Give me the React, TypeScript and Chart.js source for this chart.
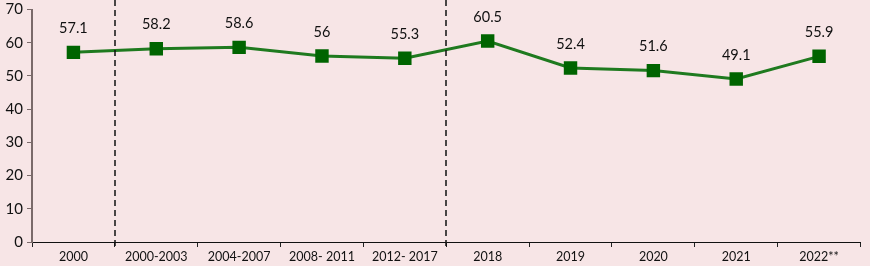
import React, { useEffect, useRef } from "react";
import { Chart, registerables } from "chart.js";

Chart.register(...registerables);

const categories = ["2000", "2000-2003", "2004-2007", "2008- 2011", "2012- 2017", "2018", "2019", "2020", "2021", "2022**"];
const values = [57.1, 58.2, 58.6, 56, 55.3, 60.5, 52.4, 51.6, 49.1, 55.9];
const dividerAfter = [0, 4];
const yTicks = [0, 10, 20, 30, 40, 50, 60, 70];

const BG = "#f7e5e6";

export default function App() {
  const ref = useRef<HTMLCanvasElement>(null);
  useEffect(() => {
    const canvas = ref.current!;
    const bgPlugin = {
      id: "bg",
      beforeDraw(chart: any) {
        const ctx = chart.ctx;
        ctx.save();
        ctx.fillStyle = BG;
        ctx.fillRect(0, 0, chart.width, chart.height);
        ctx.restore();
      },
    };
    const overlay = {
      id: "overlay",
      afterDatasetsDraw(chart: any) {
        const ctx = chart.ctx;
        const xs = chart.scales.x;
        const ys = chart.scales.y;
        ctx.save();
        ctx.strokeStyle = "#111";
        ctx.lineWidth = 1.5;
        ctx.setLineDash([6, 4]);
        dividerAfter.forEach((i) => {
          const x = Math.round((xs.getPixelForValue(i) + xs.getPixelForValue(i + 1)) / 2);
          ctx.beginPath();
          ctx.moveTo(x, 0);
          ctx.lineTo(x, ys.bottom + 6);
          ctx.stroke();
        });
        ctx.setLineDash([]);
        ctx.fillStyle = "#111";
        ctx.font = "14.5px Lato";
        ctx.textAlign = "center";
        ctx.textBaseline = "middle";
        const meta = chart.getDatasetMeta(0);
        meta.data.forEach((pt: any, i: number) => {
          ctx.fillText(String(values[i]), pt.x, pt.y - 24);
        });
        ctx.restore();
      },
    };
    const chart = new Chart(canvas, {
      type: "line",
      data: {
        labels: categories,
        datasets: [
          {
            data: values,
            borderColor: "#1f7a1f",
            borderWidth: 3,
            pointStyle: "rect",
            pointRadius: 9.5,
            pointBackgroundColor: "#006400",
            pointBorderColor: "#006400",
            pointBorderWidth: 0,
            tension: 0,
          },
        ],
      },
      options: {
        responsive: false,
        animation: false,
        layout: { padding: { top: 7, right: 1, left: 0, bottom: 0 } },
        plugins: { legend: { display: false }, tooltip: { enabled: false } },
        scales: {
          x: {
            offset: true,
            grid: { offset: true, drawOnChartArea: false, drawTicks: true, tickLength: 5, color: "#222", lineWidth: 1 },
            border: { color: "#111", width: 1 },
            ticks: { color: "#111", font: { family: "Lato", size: 12.5 }, padding: 2, maxRotation: 0, autoSkip: false },
            afterFit(scale: any) {
              scale.height = 24;
              scale.paddingLeft = 0;
              scale.paddingRight = 0;
            },
          },
          y: {
            min: 0,
            max: 70,
            afterBuildTicks(scale: any) {
              scale.ticks = yTicks.map((v) => ({ value: v }));
            },
            grid: { drawOnChartArea: false, drawTicks: true, tickLength: 5, color: "#7a6a6a" },
            border: { color: "#7a6a6a", width: 2 },
            ticks: { color: "#111", font: { family: "Lato", size: 15 }, padding: 4 },
            afterFit(scale: any) {
              scale.width = 32;
              scale.paddingTop = 0;
              scale.paddingBottom = 0;
            },
          },
        },
      },
      plugins: [bgPlugin, overlay],
    });
    return () => chart.destroy();
  }, []);
  return (
    <div style={{ position: "fixed", left: 0, top: 0, width: 870, height: 266, background: BG }}>
      <canvas ref={ref} width={870} height={266} style={{ display: "block" }} />
    </div>
  );
}
